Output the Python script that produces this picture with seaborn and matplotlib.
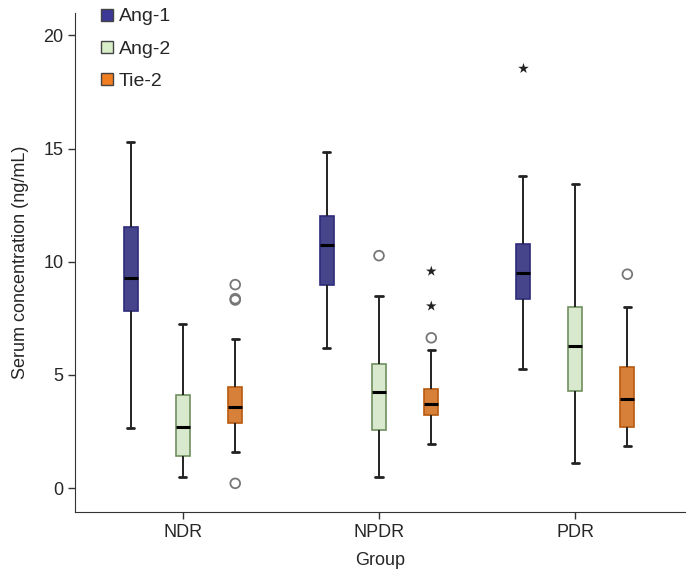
import numpy as np
import pandas as pd
import matplotlib
matplotlib.use("Agg")
import matplotlib.pyplot as plt
from matplotlib.lines import Line2D
import seaborn as sns

# Werte: min, Q1, Median, Q3, max
groups = ["NDR", "NPDR", "PDR"]
proteins = ["Ang-1", "Ang-2", "Tie-2"]

ang1 = [[2.65, 7.81, 9.30, 11.54, 15.30],
        [6.21, 8.98, 10.74, 12.02, 14.83],
        [5.28, 8.37, 9.52, 10.80, 13.77]]
ang2 = [[0.50, 1.44, 2.69, 4.12, 7.25],
        [0.49, 2.55, 4.24, 5.47, 8.48],
        [1.09, 4.30, 6.27, 8.01, 13.45]]
tie2 = [[1.60, 2.88, 3.58, 4.47, 6.58],
        [1.97, 3.21, 3.72, 4.40, 6.12],
        [1.84, 2.71, 3.93, 5.36, 7.99]]

# Ausreisser (Kreis) und Extremwerte (Stern)
circ_group = ["NDR", "NDR", "NDR", "NDR", "NPDR", "NPDR", "PDR"]
circ_prot = ["Tie-2", "Tie-2", "Tie-2", "Tie-2", "Ang-2", "Tie-2", "Tie-2"]
circ_val = [8.99, 8.31, 8.37, 0.21, 10.27, 6.64, 9.45]
star_group = ["NPDR", "NPDR", "PDR"]
star_prot = ["Tie-2", "Tie-2", "Ang-1"]
star_val = [9.58, 8.04, 18.57]

colors = ["#3b3896", "#d8eec8", "#f07d1f"]
edges = ["#2e2b7a", "#6f8f5f", "#b85a10"]

rows = []
for prot, stats in zip(proteins, [ang1, ang2, tie2]):
    for g, vals in zip(groups, stats):
        for v in vals:
            rows.append({"Group": g, "Protein": prot, "value": v})
df = pd.DataFrame(rows)
df_circ = pd.DataFrame({"Group": circ_group, "Protein": circ_prot, "value": circ_val})
df_star = pd.DataFrame({"Group": star_group, "Protein": star_prot, "value": star_val})

sns.set_style("ticks")
plt.rcParams["font.family"] = ["Liberation Sans", "DejaVu Sans"]

fig = plt.figure(figsize=(6.89, 5.81), dpi=100)
ax = fig.add_axes([0.109, 0.119, 0.885, 0.859])

sns.boxplot(data=df, x="Group", y="value", hue="Protein", order=groups,
            hue_order=proteins, palette=colors, whis=(0, 100), showfliers=False,
            width=0.8, gap=0.73, linewidth=1.2, legend=False, ax=ax,
            medianprops={"color": "black", "linewidth": 2.2},
            whiskerprops={"color": "#222222", "linewidth": 1.4},
            capprops={"color": "#222222", "linewidth": 2})

# Kastenraender einfaerben
boxes = [p for p in ax.patches]
for i, p in enumerate(boxes):
    p.set_edgecolor(edges[i // 3])

n0 = len(ax.collections)
sns.stripplot(data=df_circ, x="Group", y="value", hue="Protein", order=groups,
              hue_order=proteins, palette=["#777777"] * 3, dodge=True, jitter=False,
              marker="o", size=7, linewidth=1.3, legend=False, ax=ax)
for c in ax.collections[n0:]:
    c.set_facecolor("none")
    c.set_edgecolor("#777777")
sns.stripplot(data=df_star, x="Group", y="value", hue="Protein", order=groups,
              hue_order=proteins, palette=["#222222"] * 3, dodge=True, jitter=False,
              marker="*", size=8, linewidth=0, legend=False, ax=ax)

ax.set_xlim(-0.55, 2.56)
ax.set_ylim(-1.05, 21)
ax.set_yticks([0, 5, 10, 15, 20])
ax.set_xlabel("Group", fontsize=13, labelpad=8)
ax.set_ylabel("Serum concentration (ng/mL)", fontsize=13, labelpad=10)
ax.tick_params(labelsize=13, length=5, width=1, color="#333333")
sns.despine(ax=ax)
for s in ["left", "bottom"]:
    ax.spines[s].set_color("#333333")

handles = [Line2D([], [], marker="s", linestyle="none", markersize=9,
                  markerfacecolor=c, markeredgecolor="#444444", label=p)
           for c, p in zip(colors, proteins)]
fig.legend(handles=handles, loc="upper left", bbox_to_anchor=(0.13, 1.0),
           frameon=False, fontsize=14, handletextpad=0.1, labelspacing=0.75,
           handlelength=1.0, borderaxespad=0)

fig.savefig("out.png", dpi=100)
